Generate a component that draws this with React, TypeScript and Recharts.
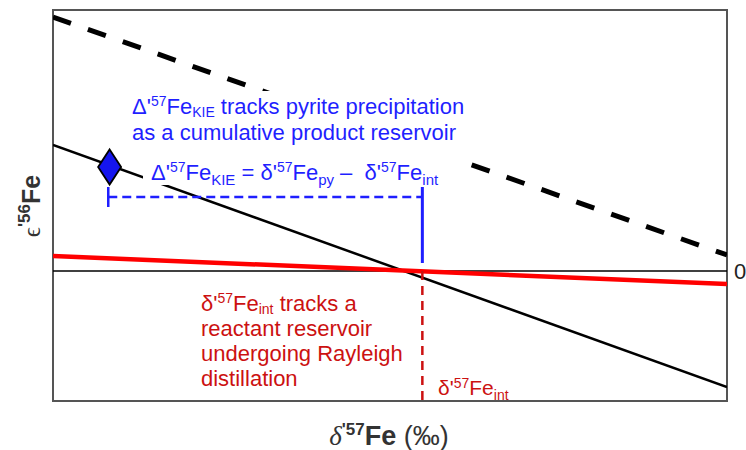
import React from "react";
import {
  ComposedChart,
  Line,
  Scatter,
  XAxis,
  YAxis,
  ReferenceLine,
  ReferenceArea,
} from "recharts";

// ---- data (arbitrary units: x 0..100, y in tenths of the plot) ----
const X_DOMAIN: [number, number] = [0, 100];
const Y_DOMAIN: [number, number] = [-13, 26.1];

const upperDashed = [
  { x: 0, y: 25.4 },
  { x: 100, y: 1.6 },
];
const trendLine = [
  { x: 0, y: 12.6 },
  { x: 100, y: -11.6 },
];
const reactantLine = [
  { x: 0, y: 1.5 },
  { x: 100, y: -1.3 },
];
const pyriteDiamond = [{ x: 8.4, y: 10.4 }];

const bracketLeftX = 8.2;
const intX = 54.8;
const bracketY = 7.4;
const capTop = 8.4;
const capBottom = 6.4;
const blueBottom = 0.8;

const W = 746;
const H = 450;
const FONT = "'Liberation Sans', Arial, sans-serif";
const BLUE = "#1f1fff";
const RED_TEXT = "#cc1111";

const Diamond = (props: any) => {
  const { cx, cy } = props;
  if (cx == null || cy == null) return null;
  const w = 11.5;
  const h = 17.5;
  return (
    <polygon
      points={`${cx},${cy - h} ${cx + w},${cy} ${cx},${cy + h} ${cx - w},${cy}`}
      fill="#1515ee"
      stroke="#000"
      strokeWidth={1.8}
    />
  );
};

const Sup = ({ t, size = 14, rise = 8 }: { t: string; size?: number; rise?: number }) => (
  <tspan dy={-rise} fontSize={size}>
    {t}
  </tspan>
);

export default function App() {
  return (
    <div style={{ position: "absolute", left: 0, top: 0, width: W, height: H }}>
      <ComposedChart
        width={W}
        height={H}
        margin={{ top: 10, right: 19, bottom: 49, left: 53 }}
      >
        <XAxis dataKey="x" type="number" domain={X_DOMAIN} hide allowDataOverflow />
        <YAxis dataKey="y" type="number" domain={Y_DOMAIN} hide allowDataOverflow />
        <ReferenceLine y={0} stroke="#000" strokeWidth={1.5} />
        <ReferenceArea
          x1={X_DOMAIN[0]}
          x2={X_DOMAIN[1]}
          y1={Y_DOMAIN[0]}
          y2={Y_DOMAIN[1]}
          fill="none"
          fillOpacity={0}
          stroke="#555"
          strokeWidth={2}
          ifOverflow="visible"
        />
        <Line
          data={upperDashed}
          dataKey="y"
          stroke="#000"
          strokeWidth={5}
          strokeDasharray="19 18"
          dot={false}
          activeDot={false}
          isAnimationActive={false}
        />
        <Line
          data={trendLine}
          dataKey="y"
          stroke="#000"
          strokeWidth={2.5}
          dot={false}
          activeDot={false}
          isAnimationActive={false}
        />
        <Line
          data={reactantLine}
          dataKey="y"
          stroke="#ff0000"
          strokeWidth={4.5}
          dot={false}
          activeDot={false}
          isAnimationActive={false}
        />
        <ReferenceLine
          segment={[
            { x: intX, y: 0 },
            { x: intX, y: Y_DOMAIN[0] },
          ]}
          stroke="#cc1111"
          strokeWidth={2.5}
          strokeDasharray="9 6"
          ifOverflow="visible"
        />
        <ReferenceLine
          segment={[
            { x: bracketLeftX, y: bracketY },
            { x: intX, y: bracketY },
          ]}
          stroke={BLUE}
          strokeWidth={2.5}
          strokeDasharray="9 5"
          ifOverflow="visible"
        />
        <ReferenceLine
          segment={[
            { x: bracketLeftX, y: capTop },
            { x: bracketLeftX, y: capBottom },
          ]}
          stroke={BLUE}
          strokeWidth={2.5}
          ifOverflow="visible"
        />
        <ReferenceLine
          segment={[
            { x: intX, y: capTop },
            { x: intX, y: blueBottom },
          ]}
          stroke={BLUE}
          strokeWidth={3}
          ifOverflow="visible"
        />
        <Scatter data={pyriteDiamond} dataKey="y" shape={Diamond} isAnimationActive={false} />
      </ComposedChart>
      <svg
        width={W}
        height={H}
        style={{ position: "absolute", left: 0, top: 0, pointerEvents: "none" }}
        fontFamily={FONT}
      >
        {/* white text-box backgrounds (hide lines behind the annotations) */}
        <rect x={125} y={91} width={345} height={56} fill="#fff" />
        <rect x={143} y={146} width={323} height={39} fill="#fff" />
        {/* blue annotation */}
        <text x={132} y={114} fontSize={22} fill={BLUE} style={{ whiteSpace: "pre" }}>
          Δ'<Sup t="57" />
          <tspan dy={8}>Fe</tspan>
          <tspan dy={3} fontSize={14}>KIE</tspan>
          <tspan dy={-3}> tracks pyrite precipitation</tspan>
        </text>
        <text x={132} y={140} fontSize={22} fill={BLUE}>
          as a cumulative product reservoir
        </text>
        <text x={151} y={180} fontSize={22} fill={BLUE} style={{ whiteSpace: "pre" }}>
          Δ'<Sup t="57" />
          <tspan dy={8}>Fe</tspan>
          <tspan dy={5} fontSize={15}>KIE</tspan>
          <tspan dy={-5}> = δ'</tspan>
          <Sup t="57" />
          <tspan dy={8}>Fe</tspan>
          <tspan dy={5} fontSize={15}>py</tspan>
          <tspan dy={-5}> –  δ'</tspan>
          <Sup t="57" />
          <tspan dy={8}>Fe</tspan>
          <tspan dy={5} fontSize={15}>int</tspan>
        </text>
        {/* red annotation */}
        <text x={201} y={311} fontSize={22} fill={RED_TEXT} style={{ whiteSpace: "pre" }}>
          δ'<Sup t="57" />
          <tspan dy={8}>Fe</tspan>
          <tspan dy={3} fontSize={14}>int</tspan>
          <tspan dy={-3}> tracks a</tspan>
        </text>
        <text x={201} y={336} fontSize={22} fill={RED_TEXT}>
          reactant reservoir
        </text>
        <text x={201} y={361} fontSize={22} fill={RED_TEXT}>
          undergoing Rayleigh
        </text>
        <text x={201} y={386} fontSize={22} fill={RED_TEXT}>
          distillation
        </text>
        <text x={438} y={395} fontSize={21} fill={RED_TEXT} style={{ whiteSpace: "pre" }}>
          δ'<Sup t="57" size={14} rise={7} />
          <tspan dy={7}>Fe</tspan>
          <tspan dy={5} fontSize={14}>int</tspan>
        </text>
        {/* zero label */}
        <text x={734} y={279} fontSize={22} fill="#222">
          0
        </text>
        {/* x axis title */}
        <text x={389} y={445} fontSize={27} fill="#333" textAnchor="middle" fontWeight="bold">
          <tspan fontStyle="italic" fontWeight="normal" fontFamily="'Liberation Serif', serif">
            δ
          </tspan>
          <tspan dy={-10} fontSize={17}>'57</tspan>
          <tspan dy={10}>Fe </tspan>
          <tspan fontWeight="normal">(‰)</tspan>
        </text>
        {/* y axis title */}
        <text
          x={0}
          y={0}
          fontSize={25}
          fill="#333"
          fontWeight="bold"
          textAnchor="middle"
          transform="translate(40, 206) rotate(-90)"
        >
          <tspan fontWeight="normal" fontFamily="'Liberation Serif', serif">ϵ</tspan>
          <tspan dy={-10} fontSize={17}>'56</tspan>
          <tspan dy={10}>Fe</tspan>
        </text>
      </svg>
    </div>
  );
}
